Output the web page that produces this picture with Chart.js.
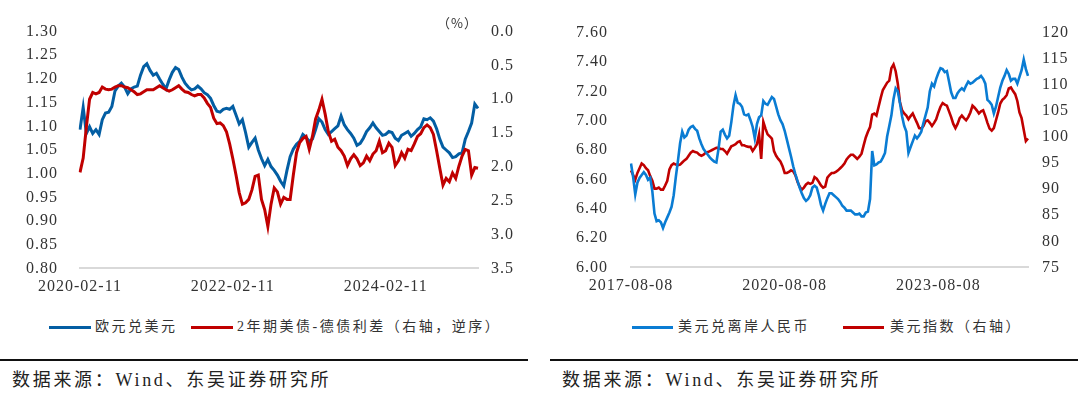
<!DOCTYPE html>
<html>
<head>
<meta charset="utf-8">
<script src="https://cdn.jsdelivr.net/npm/chart.js@4.4.0/dist/chart.umd.min.js"></script>
<style>
  body { margin: 0; background: #fff; width: 1080px; height: 393px; position: relative; overflow: hidden;
         font-family: "Liberation Serif", "Noto Sans CJK SC", serif; color: #333; }
  canvas { position: absolute; top: 0; }
  .key { position: absolute; top: 318px; font-size: 14px; letter-spacing: 2.5px; line-height: 18px; white-space: nowrap; }
  .swatch { position: absolute; top: 326px; height: 3px; }
  .rule { position: absolute; top: 359px; height: 2px; background: #111; }
  .source { position: absolute; top: 368px; font-size: 18px; letter-spacing: 2.7px; line-height: 24px; white-space: nowrap; color: #222; }
</style>
</head>
<body>
<canvas id="eurChart" width="540" height="300" style="left:0"></canvas>
<canvas id="cnhChart" width="540" height="300" style="left:540px"></canvas>

<div class="swatch" style="left:49px;width:42px;background:#035EA3"></div>
<div class="key" style="left:95px">欧元兑美元</div>
<div class="swatch" style="left:191px;width:42px;background:#C00000"></div>
<div class="key" style="left:237px">2年期美债-德债利差（右轴，逆序）</div>

<div class="swatch" style="left:632px;width:41px;background:#0A7CD3"></div>
<div class="key" style="left:678px">美元兑离岸人民币</div>
<div class="swatch" style="left:843px;width:41px;background:#C00000"></div>
<div class="key" style="left:890px">美元指数（右轴）</div>

<div class="rule" style="left:0;width:528px"></div>
<div class="rule" style="left:550px;width:528px"></div>
<div class="source" style="left:12px">数据来源：Wind、东吴证券研究所</div>
<div class="source" style="left:562px">数据来源：Wind、东吴证券研究所</div>

<script>
// left: EUR/USD vs 2y UST-Bund spread, points on the 11th and 26th from 2020-02-11
const eurTicks = ['2020-02-11', '2022-02-11', '2024-02-11'];
const eurUsd = [
  1.093, 1.140, 1.085, 1.099, 1.085, 1.093, 1.083, 1.114, 1.128, 1.130,
  1.142, 1.175, 1.185, 1.191, 1.183, 1.169, 1.179, 1.183, 1.185, 1.208,
  1.226, 1.232, 1.218, 1.208, 1.212, 1.200, 1.189, 1.179, 1.198, 1.214,
  1.224, 1.220, 1.204, 1.191, 1.183, 1.177, 1.179, 1.185, 1.179, 1.171,
  1.167, 1.159, 1.144, 1.132, 1.130, 1.136, 1.138, 1.136, 1.142, 1.124,
  1.105, 1.114, 1.087, 1.056, 1.066, 1.075, 1.050, 1.032, 1.017, 1.030,
  1.015, 1.007, 0.997, 0.984, 0.974, 1.007, 1.036, 1.052, 1.062, 1.068,
  1.083, 1.077, 1.068, 1.073, 1.093, 1.116, 1.109, 1.093, 1.083, 1.089,
  1.095, 1.101, 1.122, 1.103, 1.093, 1.085, 1.075, 1.060, 1.064, 1.075,
  1.089, 1.097, 1.107, 1.097, 1.089, 1.081, 1.083, 1.089, 1.087, 1.075,
  1.070, 1.081, 1.085, 1.089, 1.079, 1.085, 1.093, 1.099, 1.116, 1.114,
  1.118, 1.111, 1.095, 1.073, 1.056, 1.050, 1.044, 1.034, 1.036, 1.042,
  1.044, 1.073, 1.089, 1.107, 1.147, 1.138
];
const usDeSpread = [
  2.08, 1.87, 1.41, 1.00, 0.90, 0.92, 0.90, 0.82, 0.85, 0.86,
  0.85, 0.82, 0.80, 0.80, 0.82, 0.83, 0.86, 0.89, 0.93, 0.92,
  0.89, 0.86, 0.86, 0.86, 0.83, 0.80, 0.83, 0.86, 0.88, 0.86,
  0.83, 0.80, 0.85, 0.89, 0.90, 0.93, 0.95, 0.93, 0.93, 0.98,
  1.06, 1.12, 1.28, 1.36, 1.35, 1.39, 1.48, 1.66, 1.88, 2.12,
  2.38, 2.55, 2.53, 2.48, 2.34, 2.14, 2.12, 2.48, 2.63, 2.88,
  2.55, 2.31, 2.37, 2.55, 2.45, 2.48, 2.48, 2.12, 1.79, 1.64,
  1.58, 1.55, 1.74, 1.55, 1.29, 1.16, 1.00, 1.22, 1.48, 1.62,
  1.59, 1.71, 1.76, 1.84, 1.98, 1.88, 1.82, 1.88, 1.98, 1.94,
  1.84, 1.91, 1.81, 1.76, 1.62, 1.79, 1.76, 1.65, 1.71, 1.98,
  1.91, 1.79, 1.87, 1.74, 1.76, 1.66, 1.55, 1.51, 1.42, 1.38,
  1.42, 1.52, 1.76, 2.02, 2.27, 2.17, 2.22, 2.09, 2.17, 1.99,
  1.84, 1.74, 1.76, 2.12, 2.01, 2.02
];

// right: USD/CNH vs dollar index, points on the 8th and 23rd from 2017-08-08
const cnhTicks = ['2017-08-08', '2020-08-08', '2023-08-08'];
const usdCnh = [
  6.708, 6.616, 6.498, 6.577, 6.610, 6.630, 6.649, 6.630, 6.597, 6.610,
  6.518, 6.367, 6.315, 6.321, 6.308, 6.269, 6.308, 6.341, 6.374, 6.413,
  6.492, 6.616, 6.728, 6.846, 6.925, 6.885, 6.898, 6.938, 6.957, 6.964,
  6.944, 6.931, 6.879, 6.839, 6.807, 6.787, 6.767, 6.748, 6.734, 6.721,
  6.715, 6.807, 6.925, 6.938, 6.905, 6.879, 6.898, 6.990, 7.102, 7.174,
  7.121, 7.115, 7.095, 7.043, 7.036, 7.043, 7.003, 6.957, 6.879, 6.977,
  7.023, 7.036, 7.134, 7.115, 7.108, 7.134, 7.161, 7.148, 7.095, 7.043,
  7.003, 6.977, 6.931, 6.872, 6.813, 6.754, 6.689, 6.636, 6.590, 6.544,
  6.505, 6.472, 6.453, 6.466, 6.492, 6.544, 6.557, 6.544, 6.492, 6.426,
  6.387, 6.433, 6.472, 6.505, 6.505, 6.492, 6.479, 6.466, 6.446, 6.420,
  6.407, 6.387, 6.387, 6.387, 6.374, 6.361, 6.361, 6.367, 6.348, 6.348,
  6.374, 6.380, 6.466, 6.793, 6.695, 6.702, 6.715, 6.721, 6.748, 6.780,
  6.892, 6.964, 7.036, 7.148, 7.220, 7.200, 7.121, 7.030, 6.964, 6.925,
  6.780, 6.820, 6.859, 6.898, 6.879, 6.898, 6.925, 6.984, 7.036, 7.089,
  7.200, 7.252, 7.233, 7.285, 7.325, 7.357, 7.351, 7.331, 7.338, 7.266,
  7.193, 7.154, 7.154, 7.187, 7.207, 7.220, 7.207, 7.239, 7.266, 7.252,
  7.259, 7.272, 7.285, 7.292, 7.305, 7.285, 7.252, 7.141, 7.128, 7.108,
  7.049, 7.095, 7.161, 7.226, 7.272, 7.305, 7.344, 7.318, 7.272, 7.285,
  7.285, 7.252, 7.298, 7.344, 7.416, 7.351, 7.305
];
const dxy = [
  93.6, 92.7, 91.8, 93.1, 94.0, 94.9, 94.6, 94.0, 93.6, 92.5,
  91.6, 90.1, 90.1, 90.3, 89.9, 89.9, 90.7, 91.6, 93.8, 94.6,
  94.9, 94.7, 94.6, 94.7, 95.1, 95.5, 95.8, 96.4, 97.0, 97.3,
  97.1, 97.0, 96.6, 96.4, 96.6, 97.0, 97.1, 97.3, 97.5, 97.7,
  97.9, 97.9, 97.7, 97.7, 97.3, 96.8, 97.5, 98.2, 98.4, 98.6,
  99.0, 99.2, 98.4, 98.4, 98.2, 98.1, 98.1, 97.3, 97.9, 98.6,
  100.5, 95.8, 102.9, 101.6, 100.5, 100.1, 99.7, 97.3, 96.4, 95.8,
  95.3, 94.4, 93.1, 93.1, 93.3, 93.6, 93.4, 92.7, 91.4, 90.5,
  89.9, 90.3, 90.9, 91.2, 91.0, 91.2, 92.3, 92.0, 91.4, 90.7,
  90.3, 90.5, 92.2, 92.7, 93.1, 93.1, 93.3, 93.6, 94.0, 94.4,
  94.9, 95.7, 96.2, 96.6, 96.6, 96.2, 95.8, 96.2, 96.8, 98.4,
  99.9, 101.0, 101.9, 104.3, 104.5, 104.1, 105.8, 107.5, 109.0, 109.7,
  110.4, 110.8, 113.2, 113.9, 112.6, 110.2, 106.7, 105.1, 104.5, 104.1,
  103.4, 104.0, 104.5, 103.6, 102.7, 101.7, 101.6, 102.1, 103.0, 103.2,
  102.7, 102.1, 102.7, 103.4, 104.7, 105.8, 106.5, 106.2, 106.0, 104.9,
  103.8, 102.5, 101.7, 102.5, 103.6, 104.1, 103.6, 103.2, 103.8, 104.7,
  106.0, 105.6, 105.1, 104.5, 104.9, 105.1, 104.0, 102.7, 101.6, 101.2,
  101.7, 103.2, 104.7, 106.4, 107.1, 107.5, 108.0, 109.3, 109.5, 108.8,
  108.2, 106.9, 104.7, 103.6, 101.4, 99.2, 99.7
];

const pad = n => String(n).padStart(2, '0');

// two dates per month, e.g. the 11th and 26th
function halfMonthDates(year, month, days, count) {
  const out = [];
  for (let i = 0; i < count; i++) {
    const k = month - 1 + Math.floor(i / 2);
    out.push(`${year + Math.floor(k / 12)}-${pad(k % 12 + 1)}-${pad(days[i % 2])}`);
  }
  return out;
}

const eurDates = halfMonthDates(2020, 2, [11, 26], eurUsd.length);
const cnhDates = halfMonthDates(2017, 8, [8, 23], usdCnh.length);

const tickFont = { family: 'Liberation Serif', size: 16 };
const textColor = '#333';

// wide digit spacing like the source figure
const spacedText = {
  id: 'spacedText',
  beforeDraw(chart) { chart.ctx.letterSpacing = '1px'; }
};
const unitLabel = {
  id: 'unitLabel',
  afterDraw(chart, args, opts) {
    if (!opts.text) return;
    const { ctx, chartArea } = chart;
    ctx.save();
    ctx.letterSpacing = '1px';
    ctx.font = '13px "Noto Sans CJK SC"';
    ctx.fillStyle = textColor;
    ctx.textAlign = 'right';
    ctx.textBaseline = 'middle';
    ctx.fillText(opts.text, chartArea.right, 23);
    ctx.restore();
  }
};

function lineSet(data, color, axis, width) {
  return {
    data, yAxisID: axis, borderColor: color, backgroundColor: color,
    borderWidth: width, pointRadius: 0, tension: 0, fill: false
  };
}

function buildChart(id, opts) {
  const { labels, ticks, sets, left, right, leftW, rightW, unit } = opts;
  return new Chart(document.getElementById(id), {
    type: 'line',
    data: { labels, datasets: sets },
    plugins: [spacedText, unitLabel],
    options: {
      responsive: false,
      animation: false,
      devicePixelRatio: 1,
      layout: { padding: { top: 27, left: 0, right: 0, bottom: 0 } },
      plugins: { legend: { display: false }, tooltip: { enabled: false }, unitLabel: { text: unit } },
      scales: {
        x: {
          grid: { display: false, drawTicks: false },
          border: { display: true, color: '#d9d9d9', width: 2 },
          ticks: { autoSkip: false, maxRotation: 0, padding: 9, font: tickFont, color: textColor },
          afterBuildTicks: s => { s.ticks = s.ticks.filter(t => ticks.includes(labels[t.value])); },
          afterFit: s => { s.height = 29; }
        },
        y: Object.assign({
          position: 'left',
          grid: { display: false, drawTicks: false },
          border: { display: false },
          afterFit: s => { s.width = leftW; }
        }, left),
        y1: Object.assign({
          position: 'right',
          grid: { display: false, drawTicks: false },
          border: { display: false },
          afterFit: s => { s.width = rightW; }
        }, right)
      }
    }
  });
}

buildChart('eurChart', {
  labels: eurDates,
  ticks: eurTicks,
  unit: '（%）',
  leftW: 80,
  rightW: 62,
  sets: [
    lineSet(usDeSpread, '#C00000', 'y1', 3),
    lineSet(eurUsd, '#035EA3', 'y', 3)
  ],
  left: {
    min: 0.8, max: 1.3,
    ticks: { stepSize: 0.05, padding: 22, font: tickFont, color: textColor, callback: v => v.toFixed(2) }
  },
  right: {
    reverse: true, min: 0, max: 3.5,
    ticks: { stepSize: 0.5, padding: 13, font: tickFont, color: textColor, callback: v => v.toFixed(1) }
  }
});

buildChart('cnhChart', {
  labels: cnhDates,
  ticks: cnhTicks,
  unit: '',
  leftW: 91,
  rightW: 52,
  sets: [
    lineSet(usdCnh, '#0A7CD3', 'y', 2.6),
    lineSet(dxy, '#C00000', 'y1', 2.6)
  ],
  left: {
    min: 6, max: 7.6,
    ticks: { stepSize: 0.2, padding: 23, font: tickFont, color: textColor, callback: v => v.toFixed(2) }
  },
  right: {
    min: 75, max: 120,
    ticks: { stepSize: 5, padding: 14, font: tickFont, color: textColor }
  }
});
</script>
</body>
</html>
